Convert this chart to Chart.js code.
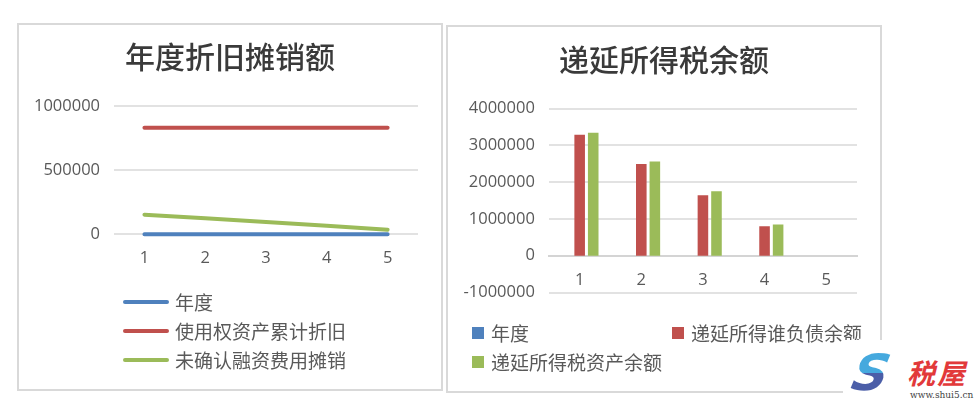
<!DOCTYPE html>
<html>
<head>
<meta charset="utf-8">
<script src="https://cdn.jsdelivr.net/npm/chart.js@4.4.1/dist/chart.umd.min.js"></script>
<style>
  body { margin: 0; background: #fff; width: 975px; height: 416px; position: relative; overflow: hidden; }
  .box { position: absolute; border: 2px solid #d9d9d9; box-sizing: border-box; background: #fff; }
  #leftBox { left: 17px; top: 23px; width: 426px; height: 368px; }
  #rightBox { left: 446px; top: 25px; width: 436px; height: 368px; }
  #wm { position: absolute; left: 843px; top: 340px; width: 132px; height: 76px; background: #fff; }
  #wm .logo { position: absolute; left: 10px; top: 8px; font: italic bold 50px "DejaVu Sans"; line-height: 50px;
    background: linear-gradient(#45a9de 0%, #45a9de 50%, #4b5ea8 50%, #4b5ea8 100%);
    -webkit-background-clip: text; color: transparent; transform: skewX(-12deg); }
  #wm .name { position: absolute; left: 64px; top: 17px; font: italic bold 28px "Noto Sans CJK SC"; color: #e2393a; line-height: 30px; letter-spacing: 2px; }
  #wm .url { position: absolute; left: 67px; top: 50px; font: 9px "DejaVu Serif"; color: #444; }
</style>
</head>
<body>
<div class="box" id="leftBox"><canvas id="leftChart" width="422" height="364"></canvas></div>
<div class="box" id="rightBox"><canvas id="rightChart" width="432" height="364"></canvas></div>
<div id="wm"><span class="logo">S</span><span class="name">税屋</span><span class="url">www.shui5.cn</span></div>
<script>
// data
const categories = ['1', '2', '3', '4', '5'];
const leftTitle = '年度折旧摊销额';
const rightTitle = '递延所得税余额';
const seriesNames = ['年度', '使用权资产累计折旧', '未确认融资费用摊销'];
const barNames = ['年度', '递延所得谁负债余额', '递延所得税资产余额'];
const yearValues = [1, 2, 3, 4, 5];
const rouDepreciation = [830000, 830000, 830000, 830000, 830000];
const financeAmortization = [152000, 124000, 96000, 66000, 35000];
const deferredTaxLiability = [3290000, 2490000, 1640000, 800000, 0];
const deferredTaxAsset = [3340000, 2560000, 1750000, 850000, 0];
const leftAxis = { min: 0, max: 1000000, step: 500000 };
const rightAxis = { min: -1000000, max: 4000000, step: 1000000 };

const blue = '#4f81bd';
const red = '#c0504d';
const green = '#9bbb59';
const gridColor = '#e2e2e2';
const tickFont = { family: 'Open Sans', size: 16.5 };
const cjk = '"Noto Sans CJK SC"';
const plain = (v) => String(v);

// legend drawn as a fixed list, like the office chart
const listLegend = {
    id: 'listLegend',
    afterDraw(chart, args, opts) {
        const ctx = chart.ctx;
        ctx.save();
        ctx.font = '19px ' + cjk;
        ctx.fillStyle = '#595959';
        ctx.textBaseline = 'middle';
        chart.data.datasets.forEach((ds, i) => {
            const [x, y] = opts.slots[i];
            if (opts.kind === 'line') {
                ctx.strokeStyle = ds.borderColor;
                ctx.lineWidth = 4;
                ctx.lineCap = 'round';
                ctx.beginPath();
                ctx.moveTo(x + 2, y);
                ctx.lineTo(x + 44, y);
                ctx.stroke();
                ctx.fillText(ds.label, x + 52, y + 1);
            } else {
                ctx.fillStyle = ds.backgroundColor;
                ctx.fillRect(x, y - 6, 12, 12);
                ctx.fillStyle = '#595959';
                ctx.fillText(ds.label, x + 19, y + 1);
            }
        });
        ctx.restore();
    }
};

// title spans the whole box, not just the padded part
const centerTitle = {
    id: 'centerTitle',
    afterLayout(chart) {
        if (chart.titleBlock) {
            chart.titleBlock.left = 0;
            chart.titleBlock.right = chart.width;
        }
    }
};

const titleOpts = (text, top, bottom) => ({
    display: true,
    text: text,
    color: '#3a3a3a',
    font: { family: cjk, size: 30, weight: 500 },
    padding: { top: top, bottom: bottom }
});

new Chart(document.getElementById('leftChart'), {
    type: 'line',
    data: {
        labels: categories,
        datasets: [
            { label: seriesNames[0], data: yearValues, borderColor: blue, order: 3, clip: false },
            { label: seriesNames[1], data: rouDepreciation, borderColor: red, order: 2, clip: false },
            { label: seriesNames[2], data: financeAmortization, borderColor: green, order: 1, clip: false }
        ]
    },
    options: {
        responsive: false,
        animation: false,
        layout: { padding: { left: 1, right: 23, top: 0, bottom: 107 } },
        elements: {
            line: { borderWidth: 4, borderCapStyle: 'round', borderJoinStyle: 'round', tension: 0 },
            point: { radius: 0, hoverRadius: 0 }
        },
        scales: {
            x: {
                offset: true,
                grid: { display: false, drawTicks: false },
                border: { display: false },
                ticks: { color: '#595959', font: tickFont, padding: 14 }
            },
            y: {
                min: leftAxis.min,
                max: leftAxis.max,
                grid: { color: gridColor, lineWidth: 2, drawTicks: false },
                border: { display: false },
                ticks: { stepSize: leftAxis.step, color: '#595959', font: tickFont, padding: 14, callback: plain }
            }
        },
        plugins: {
            legend: { display: false },
            tooltip: { enabled: false },
            title: titleOpts(leftTitle, 14, 31),
            listLegend: { kind: 'line', slots: [[104, 277], [104, 306], [104, 335]] }
        }
    },
    plugins: [listLegend, centerTitle]
});

new Chart(document.getElementById('rightChart'), {
    type: 'bar',
    data: {
        labels: categories,
        datasets: [
            { label: barNames[0], data: yearValues, backgroundColor: blue },
            { label: barNames[1], data: deferredTaxLiability, backgroundColor: red },
            { label: barNames[2], data: deferredTaxAsset, backgroundColor: green }
        ]
    },
    options: {
        responsive: false,
        animation: false,
        layout: { padding: { left: 1.5, right: 23, top: 0, bottom: 98.5 } },
        datasets: { bar: { categoryPercentage: 0.66, barPercentage: 0.78, inflateAmount: 0 } },
        scales: {
            x: {
                position: { y: 0 },
                grid: { display: false, drawTicks: false },
                // zero line is drawn as the category axis line
                border: { display: true, color: '#d4d4d4', width: 2 },
                ticks: { color: '#595959', font: tickFont, padding: 14.5 }
            },
            y: {
                min: rightAxis.min,
                max: rightAxis.max,
                grid: {
                    color: gridColor,
                    lineWidth: (c) => c.tick && c.tick.value === 0 ? 0 : 2,
                    drawTicks: false
                },
                border: { display: false },
                ticks: { stepSize: rightAxis.step, color: '#595959', font: tickFont, padding: 14, callback: plain }
            }
        },
        plugins: {
            legend: { display: false },
            tooltip: { enabled: false },
            title: titleOpts(rightTitle, 15, 30.5),
            listLegend: { kind: 'bar', slots: [[24, 306], [224, 306], [24, 335]] }
        }
    },
    plugins: [listLegend, centerTitle]
});
</script>
</body>
</html>
